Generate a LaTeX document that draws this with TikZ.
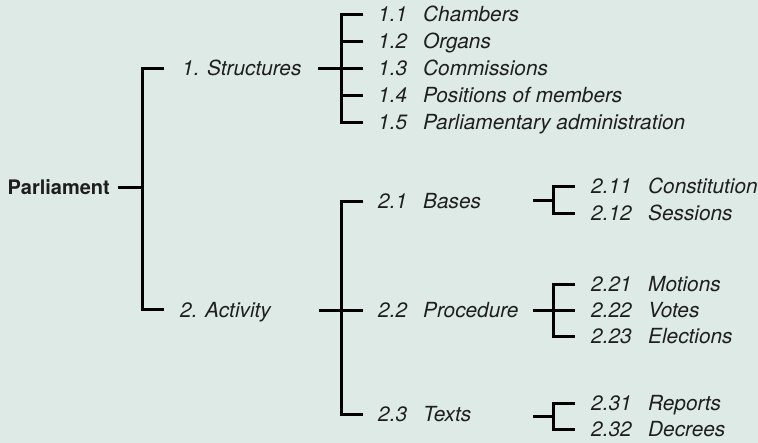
\documentclass[tikz,border=0pt]{standalone}
\usepackage{fontspec}
\setmainfont{TeX Gyre Heros}
\begin{document}
\definecolor{paper}{RGB}{222,234,229}
\definecolor{ink}{RGB}{30,30,30}
\begin{tikzpicture}[x=1pt,y=-1pt,
  lbl/.style={anchor=base west,inner sep=0pt,text=ink,font=\fontsize{20.8}{24}\selectfont\itshape},
  rootlbl/.style={anchor=base east,inner sep=0pt,text=ink,font=\fontsize{20}{24}\selectfont\bfseries},
  branch/.style={draw=black,line width=3pt,miter limit=4}]
\fill[paper] (0,0) rectangle (758,443);
\useasboundingbox (0,0) rectangle (758,443);

% root
\node[rootlbl] (parl) at (110,195) {Parliament};

% first level
\node[lbl] (s1) at (182,76) {1. Structures};
\node[lbl] (s2) at (180,318) {2. Activity};

% second level under Structures
\node[lbl] (n11) at (378,22) {1.1}; \node[lbl] (t11) at (423,22) {Chambers};
\node[lbl] (n12) at (378,49) {1.2}; \node[lbl] (t12) at (423,49) {Organs};
\node[lbl] (n13) at (378,76) {1.3}; \node[lbl] (t13) at (423,76) {Commissions};
\node[lbl] (n14) at (378,103) {1.4}; \node[lbl] (t14) at (423,103) {Positions of members};
\node[lbl] (n15) at (378,130) {1.5}; \node[lbl] (t15) at (423,130) {Parliamentary administration};

% second level under Activity
\node[lbl] (n21) at (378,209) {2.1}; \node[lbl] (t21) at (423,209) {Bases};
\node[lbl] (n22) at (378,318) {2.2}; \node[lbl] (t22) at (423,318) {Procedure};
\node[lbl] (n23) at (378,422) {2.3}; \node[lbl] (t23) at (423,422) {Texts};

% third level
\node[lbl] (n211) at (591,194) {2.11}; \node[lbl] (t211) at (648,194) {Constitution};
\node[lbl] (n212) at (591,221) {2.12}; \node[lbl] (t212) at (648,221) {Sessions};
\node[lbl] (n221) at (591,292) {2.21}; \node[lbl] (t221) at (648,292) {Motions};
\node[lbl] (n222) at (591,318) {2.22}; \node[lbl] (t222) at (648,318) {Votes};
\node[lbl] (n223) at (591,344) {2.23}; \node[lbl] (t223) at (648,344) {Elections};
\node[lbl] (n231) at (591,411) {2.31}; \node[lbl] (t231) at (648,411) {Reports};
\node[lbl] (n232) at (591,437) {2.32}; \node[lbl] (t232) at (648,437) {Decrees};

% bracket junction points
\coordinate (r0) at (118,188);  \coordinate (rj) at (142,188);
\coordinate (a1) at (164,69);   \coordinate (a2) at (164,310);
\coordinate (s1t) at (318,69);  \coordinate (s2t) at (319,311);
\coordinate (b1) at (363,15);   \coordinate (b2) at (363,42);  \coordinate (b3) at (363,69);
\coordinate (b4) at (363,96);   \coordinate (b5) at (363,123);
\coordinate (c1) at (363,202);  \coordinate (c2) at (363,311); \coordinate (c3) at (363,415);
\coordinate (p1t) at (533,201); \coordinate (p2t) at (533,311); \coordinate (p3t) at (533,417);
\coordinate (d11) at (575,187); \coordinate (d12) at (575,214);
\coordinate (d21) at (575,285); \coordinate (d22) at (575,311); \coordinate (d23) at (575,337);
\coordinate (d31) at (575,404); \coordinate (d32) at (575,430);

% Parliament
\draw[branch] (r0) -- (rj);
\draw[branch] (a1) -| (rj) |- (a2);
% Structures
\draw[branch] (s1t) -- (b3);
\draw[branch] (b1) -- ++(-22,0) |- (b5);
\draw[branch] (b2) -- ++(-22,0);
\draw[branch] (b4) -- ++(-22,0);
% Activity
\draw[branch] (s2t) -- (c2);
\draw[branch] (c1) -- ++(-22,0) |- (c3);
% Bases
\draw[branch] (p1t) -- ++(20,0);
\draw[branch] (d11) -- ++(-22,0) |- (d12);
% Procedure
\draw[branch] (p2t) -- (d22);
\draw[branch] (d21) -- ++(-22,0) |- (d23);
% Texts
\draw[branch] (p3t) -- ++(20,0);
\draw[branch] (d31) -- ++(-22,0) |- (d32);
\end{tikzpicture}
\end{document}
